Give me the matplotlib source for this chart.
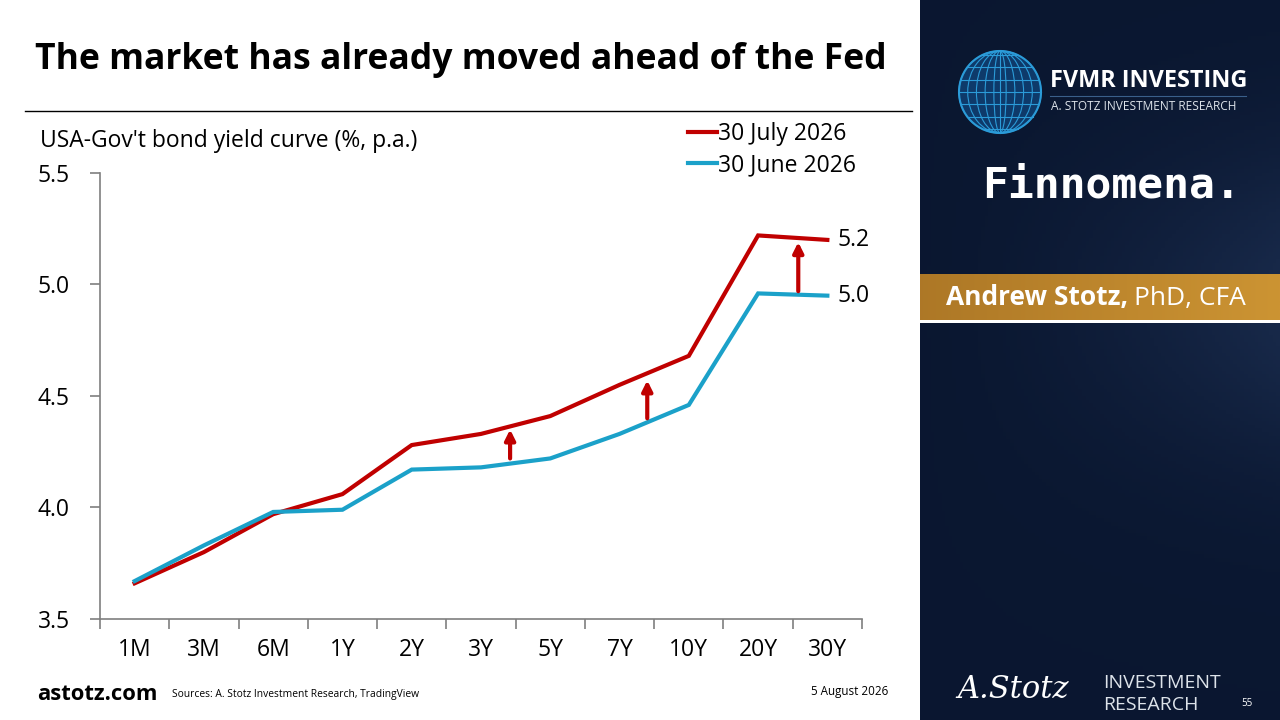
import numpy as np
import matplotlib
matplotlib.use("Agg")
import matplotlib.pyplot as plt
from matplotlib.patches import Rectangle, Ellipse, Circle

# ---- data ----
tenors = ["1M", "3M", "6M", "1Y", "2Y", "3Y", "5Y", "7Y", "10Y", "20Y", "30Y"]
yield_jul = [3.66, 3.80, 3.97, 4.06, 4.28, 4.33, 4.41, 4.55, 4.68, 5.22, 5.20]
yield_jun = [3.67, 3.83, 3.98, 3.99, 4.17, 4.18, 4.22, 4.33, 4.46, 4.96, 4.95]
series_names = ["30 July 2026", "30 June 2026"]
yticks = [3.5, 4.0, 4.5, 5.0, 5.5]
end_labels = ["5.2", "5.0"]
# arrows: (x position in category units, start y, end y)
arrow_x = [5.42, 7.40, 9.58]
arrow_y0 = [4.22, 4.40, 4.97]
arrow_y1 = [4.35, 4.57, 5.19]

RED = "#C00000"
BLUE = "#1BA1C9"
FONT = ["Open Sans", "DejaVu Sans"]
plt.rcParams["font.family"] = FONT

fig = plt.figure(figsize=(12.8, 7.2), dpi=100)
W, H = 1280, 720

def fx(px):
    return px / W

def fy(py):
    return 1 - py / H

# ---- right dark panel ----
bg = fig.add_axes([fx(920), 0, 1 - fx(920), 1])
bg.set_axis_off()
yy = np.linspace(0, 1, 200)[:, None]
xx = np.linspace(0, 1, 100)[None, :]
base = np.array([0.04, 0.09, 0.19])
light = np.array([0.10, 0.17, 0.30])
glow = np.exp(-((yy - 0.42) ** 2) / 0.05) * np.clip(xx, 0, 1) ** 1.5
img = base[None, None, :] + (light - base)[None, None, :] * glow[:, :, None] * 0.9
bg.imshow(img, extent=[0, 1, 0, 1], aspect="auto", origin="upper")
bg.set_xlim(0, 1)
bg.set_ylim(0, 1)

# gold band (gradient)
band = fig.add_axes([fx(920), fy(320), 1 - fx(920), 46 / H])
band.set_axis_off()
gx_lin = np.linspace(0, 1, 200)[None, :]
c0 = np.array([0.68, 0.47, 0.15])
c1 = np.array([0.80, 0.58, 0.20])
band.imshow(c0[None, None, :] + (c1 - c0)[None, None, :] * gx_lin[:, :, None],
            extent=[0, 1, 0, 1], aspect="auto")

# overlay axes in pixel coordinates
ov = fig.add_axes([0, 0, 1, 1], facecolor="none")
ov.set_axis_off()
ov.set_xlim(0, W)
ov.set_ylim(H, 0)

# globe logo
gx, gy, gr = 1000, 92, 41
gcol = "#2B9BD8"
ov.add_patch(Circle((gx, gy), gr, facecolor="#0E3A6A", edgecolor=gcol, lw=1.5))
for k in np.linspace(-0.9, 0.9, 7):
    hw = gr * np.sqrt(1 - k ** 2)
    ov.plot([gx - hw, gx + hw], [gy + k * gr, gy + k * gr], color=gcol, lw=0.8)
for w in np.linspace(0.15, 1.0, 5):
    ov.add_patch(Ellipse((gx, gy), 2 * gr * w, 2 * gr, fill=False, edgecolor=gcol, lw=0.8))
ov.plot([gx, gx], [gy - gr, gy + gr], color=gcol, lw=0.8)

ov.text(1050, 81, "FVMR INVESTING", color="white", fontsize=16.8, fontweight="bold",
        va="center", ha="left")
ov.plot([1050, 1246], [96, 96], color="#3A5F8A", lw=0.8)
ov.text(1051, 106, "A. STOTZ INVESTMENT RESEARCH", color="#DDE3EA", fontsize=8.6,
        va="center", ha="left")
ov.text(1111, 186, "Finnomena.", color="white", fontsize=31, va="center", ha="center",
        family=["DejaVu Sans Mono"], fontweight="bold")

ov.add_patch(Rectangle((920, 320), 360, 3, facecolor="white", edgecolor="none"))
t1 = ov.text(946, 298, "Andrew Stotz,", color="white", fontsize=19, fontweight="bold",
             va="center", ha="left", zorder=5)
fig.canvas.draw()
ext = t1.get_window_extent(renderer=fig.canvas.get_renderer())
ov.text(ext.x1 + 6, 298, "PhD, CFA", color="white", fontsize=19, va="center",
        ha="left", zorder=5)

# bottom-right logo
ov.text(1013, 689, "A.Stotz", color="white", fontsize=22, style="italic",
        family=["DejaVu Serif"], va="center", ha="center")
ov.text(1103, 683, "INVESTMENT", color="#DDE3EA", fontsize=14, va="center", ha="left")
ov.text(1103, 705, "RESEARCH", color="#DDE3EA", fontsize=14, va="center", ha="left")
ov.text(1241, 704, "55", color="white", fontsize=7, va="center", ha="left")

# ---- title & footer ----
ov.text(35, 60, "The market has already moved ahead of the Fed", fontsize=25.6,
        fontweight="bold", color="black", va="center", ha="left")
ov.plot([25, 912], [111, 111], color="black", lw=1.0)
ov.text(37, 694, "astotz.com", fontsize=15.8, fontweight="bold", va="center", ha="left")
ov.text(172, 694, "Sources: A. Stotz Investment Research, TradingView", fontsize=7.4,
        va="center", ha="left")
ov.text(888, 691, "5 August 2026", fontsize=8.4, va="center", ha="right")

# ---- chart ----
ax = fig.add_axes([fx(100), fy(619), fx(862) - fx(100), fy(173) - fy(619)])
x = np.arange(len(tenors))
ax.plot(x, yield_jul, color=RED, lw=3, solid_joinstyle="miter", label=series_names[0], zorder=3)
ax.plot(x, yield_jun, color=BLUE, lw=3, solid_joinstyle="miter", label=series_names[1], zorder=3)
ax.set_xlim(-0.5, len(tenors) - 0.5)
ax.set_ylim(3.5, 5.5)
ax.set_yticks(yticks)
ax.set_yticklabels([f"{v:.1f}" for v in yticks])
ax.set_xticks(x)
ax.set_xticklabels(tenors)
ax.set_xticks(np.arange(-0.5, len(tenors)), minor=True)
ax.tick_params(axis="x", which="major", length=0, pad=14, labelsize=16.5)
ax.tick_params(axis="x", which="minor", length=7, direction="out", color="#7F7F7F", width=1.2)
ax.tick_params(axis="y", length=7, direction="out", color="#7F7F7F", width=1.2,
               labelsize=16.5, pad=38)
for lab in ax.get_yticklabels():
    lab.set_horizontalalignment("left")
for s in ["top", "right"]:
    ax.spines[s].set_visible(False)
for s in ["left", "bottom"]:
    ax.spines[s].set_color("#7F7F7F")
    ax.spines[s].set_linewidth(1.2)

for xa, y0, y1 in zip(arrow_x, arrow_y0, arrow_y1):
    ax.annotate("", xy=(xa, y1), xytext=(xa, y0),
                arrowprops=dict(arrowstyle="-|>,head_length=0.6,head_width=0.3",
                                color=RED, lw=3, shrinkA=0, shrinkB=0))

ax.text(len(tenors) - 1 + 0.15, yield_jul[-1], end_labels[0], fontsize=16.5,
        va="center", ha="left")
ax.text(len(tenors) - 1 + 0.15, yield_jun[-1], end_labels[1], fontsize=16.5,
        va="center", ha="left")

axw = fx(862) - fx(100)
axh = fy(173) - fy(619)
leg = ax.legend(loc="upper left",
                bbox_to_anchor=((fx(688) - fx(100)) / axw, (fy(122) - fy(619)) / axh),
                frameon=False, fontsize=16.5, handlelength=1.25, handletextpad=0.05,
                labelspacing=0.3, borderaxespad=0, borderpad=0)

ov.text(40, 141, "USA-Gov't bond yield curve (%, p.a.)", fontsize=16.5, va="center", ha="left")

fig.savefig("out.png", dpi=100)
